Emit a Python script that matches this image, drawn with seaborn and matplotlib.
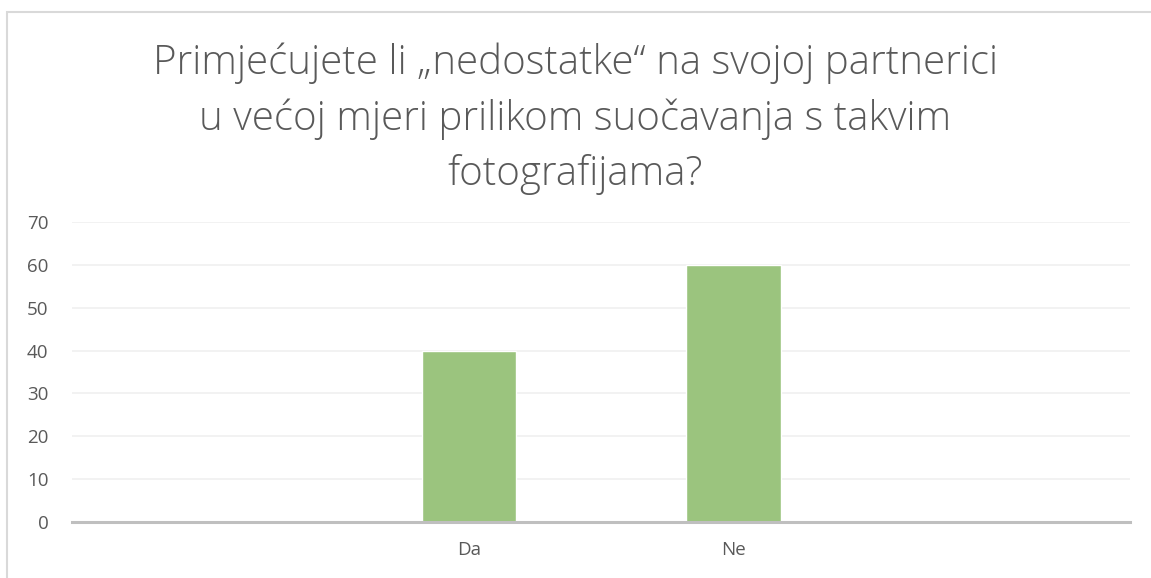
import matplotlib
matplotlib.use("Agg")
import matplotlib.pyplot as plt
import numpy as np
import pandas as pd
import seaborn as sns
from matplotlib.patches import Rectangle

# data
categories = ["", "Da", "Ne", " "]
values = [0, 40, 60, 0]
y_ticks = [0, 10, 20, 30, 40, 50, 60, 70]
title = ("Primjećujete li „nedostatke“ na svojoj partnerici\n"
         "u većoj mjeri prilikom suočavanja s takvim\n"
         "fotografijama?")

bar_color = "#9BC47E"
text_color = "#595959"

sns.set_style("white")
plt.rcParams["font.family"] = ["Open Sans", "DejaVu Sans"]

df = pd.DataFrame({"odgovor": categories, "broj": values})

fig = plt.figure(figsize=(11.51, 5.78), dpi=100)
ax = fig.add_axes([0.0626, 0.0969, 0.9192, 0.5190])

sns.barplot(data=df, x="odgovor", y="broj", order=categories, color=bar_color,
            saturation=1, width=0.357, ax=ax, zorder=3)

ax.set_ylim(0, 70)
ax.set_xlim(-0.5, len(categories) - 0.5)
ax.set_yticks(y_ticks)
ax.yaxis.grid(True, color="#F0F0F0", linewidth=1.2, zorder=0)
ax.set_axisbelow(True)
for side in ["left", "right", "top"]:
    ax.spines[side].set_visible(False)
ax.spines["bottom"].set_color("#BFBFBF")
ax.spines["bottom"].set_linewidth(2.2)
ax.spines["bottom"].set_zorder(4)
ax.tick_params(axis="y", length=0, pad=17, labelsize=13.5, labelcolor=text_color)
ax.tick_params(axis="x", length=0, pad=14, labelsize=13.5, labelcolor=text_color)
ax.set_xlabel("")
ax.set_ylabel("")

fig.text(0.5, 0.795, title, ha="center", va="center", fontsize=29,
         fontweight="light", color=text_color, linespacing=1.45)

# chart frame (only top and left visible in the crop)
fig.patches.append(Rectangle((7 / 1151, -0.1), 1.2, 1 - 12 / 578 + 0.1,
                             transform=fig.transFigure, fill=False,
                             edgecolor="#D9D9D9", linewidth=1.5))

fig.savefig("out.png", dpi=100)
plt.close(fig)
